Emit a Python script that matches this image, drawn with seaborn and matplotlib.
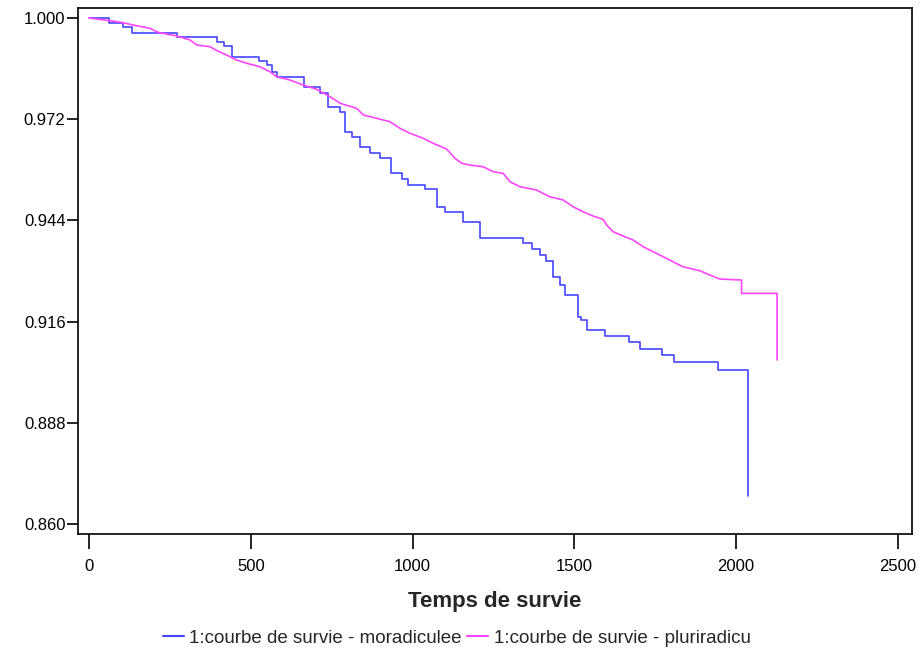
import matplotlib
matplotlib.use("Agg")
import matplotlib.pyplot as plt
import seaborn as sns
import pandas as pd

# Kaplan-Meier estimates
# moradiculee: coarse steps (time of drop, survival after the drop)
mono_time = [0, 63, 106, 133, 271, 395, 417, 441, 525, 549, 565, 580, 664, 714,
             739, 776, 791, 812, 837, 868, 899, 932, 966, 987, 1038, 1076, 1100,
             1157, 1208, 1342, 1368, 1394, 1414, 1435, 1455, 1471, 1512, 1522,
             1538, 1594, 1670, 1703, 1772, 1808, 1945, 2037]
mono_surv = [1.0, 0.9987, 0.9976, 0.9959, 0.9948, 0.9934, 0.9923, 0.9891, 0.9881,
             0.9870, 0.9851, 0.9837, 0.9810, 0.9792, 0.9755, 0.9741, 0.9685,
             0.9672, 0.9642, 0.9626, 0.9612, 0.9570, 0.9555, 0.9538, 0.9526,
             0.9478, 0.9464, 0.9436, 0.9390, 0.9377, 0.9360, 0.9343, 0.9328,
             0.9284, 0.9261, 0.9234, 0.9173, 0.9164, 0.9137, 0.9121, 0.9103,
             0.9084, 0.9068, 0.9049, 0.9026, 0.8678]

# pluriradicu: very many small events, traced as a path
pluri_time = [0, 65, 105, 136, 188, 213, 271, 312, 333, 374, 395, 425, 456, 487,
              528, 559, 580, 621, 662, 704, 745, 776, 827, 848, 889, 930, 961,
              992, 1033, 1064, 1105, 1131, 1152, 1177, 1218, 1249, 1280, 1301,
              1332, 1383, 1424, 1466, 1496, 1527, 1558, 1589, 1600, 1620, 1651,
              1682, 1713, 1744, 1775, 1805, 1836, 1888, 1919, 1950, 2017, 2017,
              2127, 2127]
pluri_surv = [1.0, 0.99925, 0.99870, 0.99806, 0.99715, 0.99604, 0.99502, 0.99391,
              0.99253, 0.99206, 0.99095, 0.98976, 0.98838, 0.98747, 0.98652,
              0.98514, 0.98376, 0.98284, 0.98146, 0.98027, 0.97822, 0.97640,
              0.97501, 0.97316, 0.97225, 0.97131, 0.96948, 0.96810, 0.96671,
              0.96533, 0.96375, 0.96118, 0.95980, 0.95932, 0.95885, 0.95747,
              0.95703, 0.95470, 0.95332, 0.95241, 0.95055, 0.94964, 0.94779,
              0.94640, 0.94521, 0.94430, 0.94272, 0.94087, 0.93968, 0.93857,
              0.93672, 0.93533, 0.93395, 0.93257, 0.93118, 0.93008, 0.92889,
              0.92778, 0.92750, 0.92382, 0.92382, 0.90537]

labels = ["1:courbe de survie - moradiculee", "1:courbe de survie - pluriradicu"]
colors = ["#4646ff", "#ff46ff"]
x_ticks = [0, 500, 1000, 1500, 2000, 2500]
y_ticks = [0.860, 0.888, 0.916, 0.944, 0.972, 1.000]

mono = pd.DataFrame({"t": mono_time, "s": mono_surv})
pluri = pd.DataFrame({"t": pluri_time, "s": pluri_surv})

sns.set_style("white")
plt.rcParams["font.family"] = ["Liberation Sans Narrow", "Liberation Sans", "DejaVu Sans"]

fig = plt.figure(figsize=(9.19, 6.57), dpi=100)
ax = fig.add_axes([0.085, 0.187, 0.907, 0.801])

sns.lineplot(data=mono, x="t", y="s", estimator=None, sort=False,
             drawstyle="steps-post", color=colors[0], linewidth=1.2, ax=ax)
sns.lineplot(data=pluri, x="t", y="s", estimator=None, sort=False,
             color=colors[1], linewidth=1.2, ax=ax)

ax.set_xlim(-34, 2543)
ax.set_ylim(0.8572, 1.0028)
ax.set_xticks(x_ticks)
ax.set_xticklabels([str(v) for v in x_ticks], fontsize=12)
ax.set_yticks(y_ticks)
ax.set_yticklabels([f"{v:.3f}" for v in y_ticks], fontsize=12)
ax.tick_params(axis="both", direction="out", width=1.2, colors="black",
               left=True, bottom=True)
ax.tick_params(axis="y", length=8, pad=1)
ax.tick_params(axis="x", length=11, pad=7)
for sp in ax.spines.values():
    sp.set_color("black")
    sp.set_linewidth(1.2)

ax.set_xlabel("Temps de survie", fontsize=16, fontweight="bold", labelpad=12)
ax.set_ylabel("")

handles = [plt.Line2D([], [], color=c, lw=1.5) for c in colors]
fig.legend(handles, labels, loc="center", bbox_to_anchor=(0.497, 0.029), ncol=2,
           frameon=False, fontsize=13.5, handlelength=1.1, handletextpad=0.3,
           columnspacing=0.3)

fig.savefig("out.png", dpi=100)
